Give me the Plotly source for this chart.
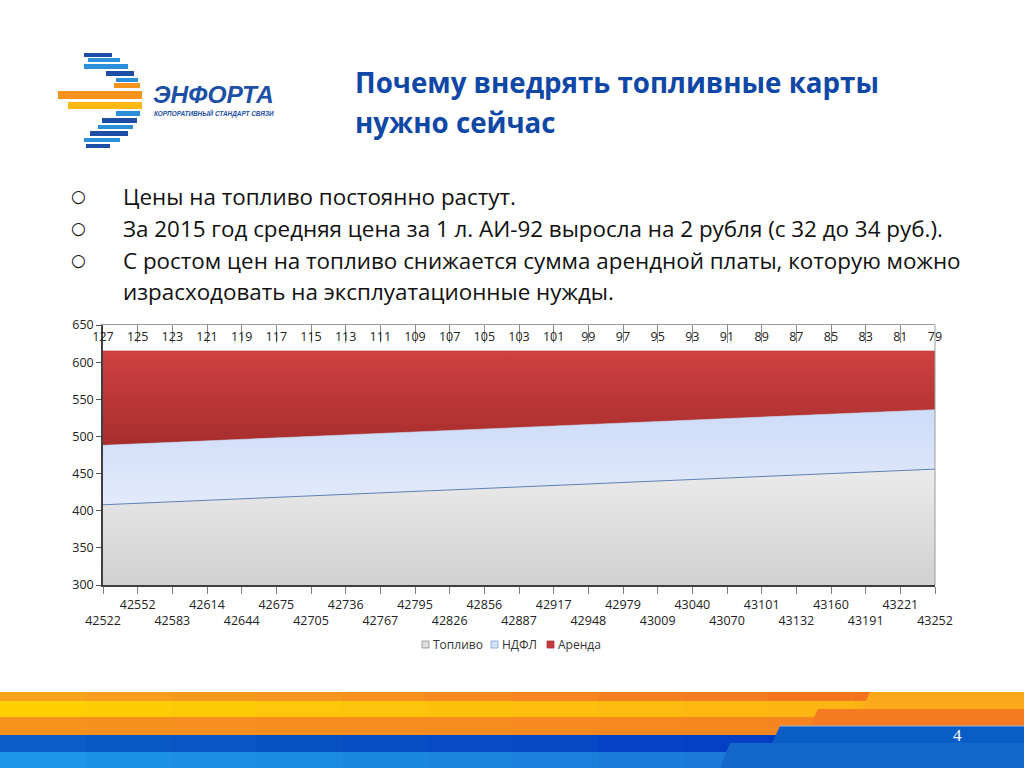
import plotly.graph_objects as go

# ---------------- data ----------------
dates = [42522, 42552, 42583, 42614, 42644, 42675, 42705, 42736, 42767, 42795,
         42826, 42856, 42887, 42917, 42948, 42979, 43009, 43040, 43070, 43101,
         43132, 43160, 43191, 43221, 43252]
fuel = [408, 410, 412, 414, 416, 418, 420, 422, 424, 426, 428, 430, 432,
        434, 436, 438, 440, 442, 444, 446, 448, 450, 452, 454, 456]
ndfl = [80, 80, 80, 80, 80, 80, 80, 80, 80, 80, 80, 80, 80,
        80, 80, 80, 80, 80, 80, 80, 80, 80, 80, 80, 80]
rent = [127, 125, 123, 121, 119, 117, 115, 113, 111, 109, 107, 105, 103,
        101, 99, 97, 95, 93, 91, 89, 87, 85, 83, 81, 79]
series_names = ["Топливо", "НДФЛ", "Аренда"]
y_ticks = [300, 350, 400, 450, 500, 550, 600, 650]

title_lines = ["Почему внедрять топливные карты", "нужно сейчас"]
bullets = ["Цены на топливо постоянно растут.",
           "За 2015 год средняя цена за 1 л. АИ-92 выросла на 2 рубля (с 32 до 34 руб.).",
           "С ростом цен на топливо снижается сумма арендной платы, которую можно",
           "израсходовать на эксплуатационные нужды."]

# ---------------- geometry helpers ----------------
W, H = 1024, 768
L, R, T, B = 103, 935, 325, 585


def px(x):
    return (x - L) / (R - L)


def py(y):
    return (B - y) / (B - T)


def hexmix(c0, c1, t):
    a = [int(c0[i:i + 2], 16) for i in (1, 3, 5)]
    b = [int(c1[i:i + 2], 16) for i in (1, 3, 5)]
    return "#%02x%02x%02x" % tuple(round(a[k] + (b[k] - a[k]) * t) for k in range(3))


shapes = []


def rect(x0, y0, x1, y1, color, line=None):
    shapes.append(dict(type="rect", xref="paper", yref="paper",
                       x0=px(x0), x1=px(x1), y0=py(y1), y1=py(y0),
                       fillcolor=color, line=line or dict(width=0), layer="above"))


def grad_band(x0, x1, y0, y1, c0, c1, n=12):
    step = (x1 - x0) / n
    for i in range(n):
        rect(x0 + i * step, y0, x0 + (i + 1) * step + 0.6, y1, hexmix(c0, c1, i / (n - 1)))


def poly(points, color, line=None):
    d = "M " + " L ".join("%f,%f" % (px(x), py(y)) for x, y in points) + " Z"
    shapes.append(dict(type="path", xref="paper", yref="paper", path=d,
                       fillcolor=color, line=line or dict(width=0), layer="above"))


# ---------------- bottom stripes ----------------
grad_band(0, 1024, 692, 701.5, "#f8a31c", "#f36c21")
grad_band(0, 1024, 701, 717.5, "#ffcf04", "#fbb016")
grad_band(0, 1024, 717, 735.5, "#f7921d", "#f58320")
grad_band(0, 1024, 735, 752.5, "#0b5cc6", "#0035c4")
grad_band(0, 1024, 752, 768, "#1c96e8", "#1a6ed0")
poly([(870, 692), (1024, 692), (1024, 709), (862, 709)], "#fba91b")
poly([(818, 709), (1024, 709), (1024, 726), (810, 726)], "#f57b20")
poly([(780, 726), (1024, 726), (1024, 743), (772, 743)], "#0b5dc6")
poly([(730, 743), (1024, 743), (1024, 768), (720, 768)], "#1468cc")
shapes.append(dict(type="line", xref="paper", yref="paper", x0=px(780), x1=px(1024),
                   y0=py(726), y1=py(726), line=dict(color="#9fb6d8", width=1), layer="above"))

# ---------------- logo ----------------
logo_bars = [
    (84, 53, 112, 57, "#1e4fa8"), (88, 58, 120, 62, "#2b8fd9"), (84, 64, 128, 69, "#2b8fd9"),
    (106, 71, 134, 76, "#1e4fa8"), (116, 78, 138, 82, "#2b8fd9"), (114, 83, 140, 88, "#f7941d"),
    (58, 91, 142, 99, "#f7941d"), (68, 102, 142, 109, "#fdb913"), (116, 111, 140, 116, "#2b8fd9"),
    (102, 118, 137, 123, "#1e4fa8"), (98, 125, 133, 129, "#2b8fd9"), (90, 131, 128, 136, "#1e4fa8"),
    (84, 138, 120, 142, "#2b8fd9"), (86, 144, 110, 148, "#1e4fa8"),
]
for x0, y0, x1, y1, c in logo_bars:
    rect(x0, y0, x1, y1, c)

annotations = []


def text(x, y, s, size, color, family, xanchor="left", bold=False):
    annotations.append(dict(xref="paper", yref="paper", x=px(x), y=py(y), text=s,
                            showarrow=False, xanchor=xanchor, yanchor="middle",
                            font=dict(size=size, color=color, family=family,
                                      weight="bold" if bold else "normal")))


text(151, 94, "<i>ЭНФОРТА</i>", 24.5, "#1c4fa6", "Liberation Sans", bold=True)
text(152, 113, "<i>КОРПОРАТИВНЫЙ СТАНДАРТ СВЯЗИ</i>", 6.4, "#1c4fa6", "Liberation Sans", bold=True)

# ---------------- title and bullets ----------------
text(353, 82, title_lines[0], 27.7, "#0f47a6", "Open Sans", bold=True)
text(353, 122, title_lines[1], 27.7, "#0f47a6", "Open Sans", bold=True)
bullet_y = [196, 228, 260, 291]
for i, (s, yy) in enumerate(zip(bullets, bullet_y)):
    if i < 3:
        text(78, yy, "○", 17, "#111111", "DejaVu Sans", xanchor="center")
    text(121, yy, s, 22.4, "#111111", "Open Sans")

text(957, 735, "4", 17, "#ffffff", "Liberation Sans Narrow", xanchor="center")

# right frame of plot area
shapes.append(dict(type="line", xref="paper", yref="paper", x0=1, x1=1, y0=0, y1=1,
                   line=dict(color="#9a9a9a", width=1), layer="above"))

# ---------------- legend (compact, as in the original) ----------------
legend_style = [("#dedede", "#8c8c8c"), ("#d6e3fa", "#7f9fd0"), ("#c23a3a", "#b03030")]
legend_x = [422, 491, 547]
for name, (fc, lc), lx in zip(series_names, legend_style, legend_x):
    rect(lx, 641, lx + 7, 648, fc, line=dict(color=lc, width=0.8))
    text(lx + 9, 644.5, name, 12, "#333333", "Open Sans")

# ---------------- chart ----------------
cats = [str(d) for d in dates]
fig = go.Figure()
fig.add_trace(go.Scatter(
    x=cats, y=fuel, name=series_names[0], stackgroup="s", mode="lines",
    line=dict(color="#5f7fb5", width=1),
    fillgradient=dict(type="vertical", start=300, stop=456,
                      colorscale=[[0, "#d1d1d1"], [1, "#ebebeb"]]),
    hoverinfo="skip"))
fig.add_trace(go.Scatter(
    x=cats, y=ndfl, name=series_names[1], stackgroup="s", mode="lines",
    line=dict(color="#c3d3f0", width=0.6),
    fillgradient=dict(type="vertical", start=410, stop=535,
                      colorscale=[[0, "#e2eafc"], [1, "#cddcf8"]]),
    hoverinfo="skip"))
fig.add_trace(go.Scatter(
    x=cats, y=rent, name=series_names[2], stackgroup="s", mode="lines",
    line=dict(color="#b83434", width=0.6),
    fillgradient=dict(type="vertical", start=490, stop=615,
                      colorscale=[[0, "#a72e2d"], [1, "#d04141"]]),
    hoverinfo="skip"))
# carrier trace for the secondary (top) category axis
fig.add_trace(go.Scatter(
    x=[str(v) for v in rent], y=[None] * len(rent), xaxis="x2", mode="lines",
    line=dict(width=0), showlegend=False, hoverinfo="skip"))

bottom_text = [("<br>" + c) if i % 2 == 0 else c for i, c in enumerate(cats)]

axis_font = dict(family="Open Sans", size=12.5, color="#222222")
fig.update_layout(
    width=W, height=H,
    margin=dict(l=L, r=W - R, t=T, b=H - B),
    paper_bgcolor="white", plot_bgcolor="white",
    showlegend=False,
    xaxis=dict(type="category", range=[0, len(cats) - 1], tickvals=cats, ticktext=bottom_text,
               ticks="outside", ticklen=7, tickcolor="#7f7f7f", showline=True,
               linecolor="#404040", linewidth=1.5, showgrid=False, zeroline=False,
               tickangle=0, tickfont=axis_font),
    xaxis2=dict(type="category", overlaying="x", side="top", anchor="y",
                range=[0, len(rent) - 1], ticks="inside", ticklen=18, tickcolor="#8a8a8a",
                ticklabelposition="inside", ticklabeloverflow="allow", ticklabelstandoff=-11,
                showline=True, linecolor="#9a9a9a", linewidth=1,
                showgrid=False, zeroline=False, tickangle=0, tickfont=axis_font),
    yaxis=dict(range=[300, 650], tickvals=y_ticks, ticks="outside", ticklen=5,
               tickcolor="#555555", showline=True, linecolor="#404040", linewidth=1.5,
               showgrid=False, zeroline=False, tickfont=axis_font, ticklabeloverflow="allow"),
    shapes=shapes, annotations=annotations,
)

fig.write_html("out.html")
